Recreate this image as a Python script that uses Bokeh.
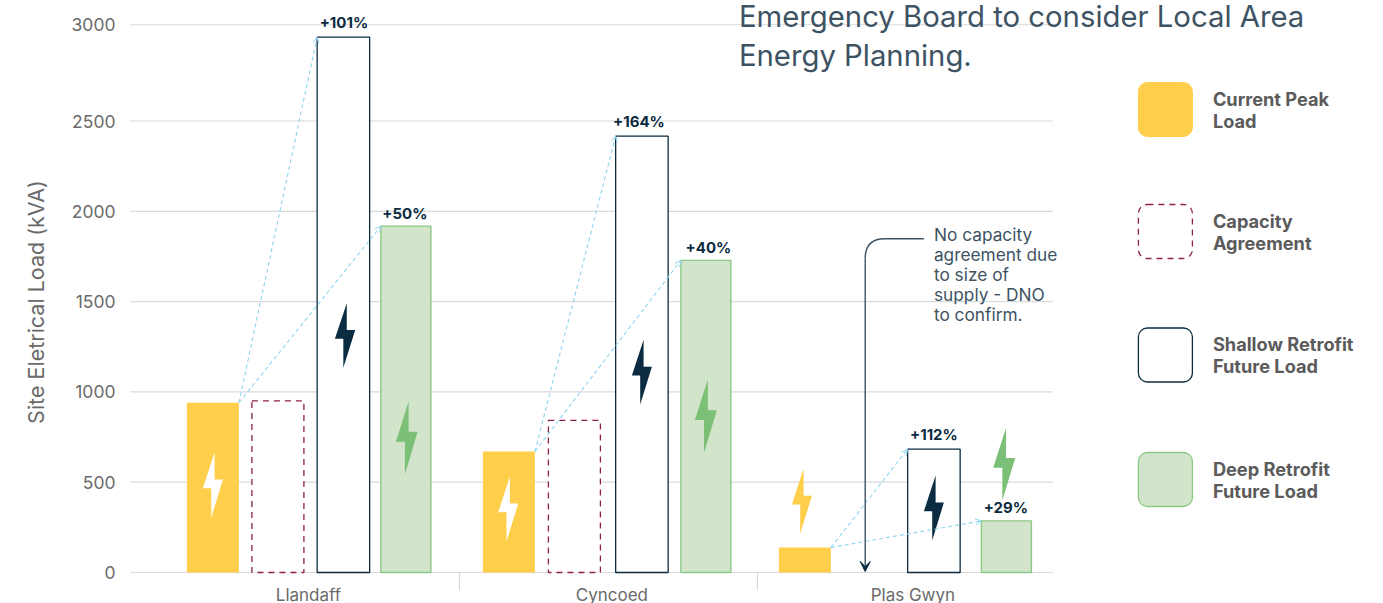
from bokeh.embed import file_html
from bokeh.models import Arrow, ColumnDataSource, FixedTicker, OpenHead, VeeHead
from bokeh.plotting import figure
from bokeh.resources import INLINE
from bokeh.core.properties import value

# Loads in kVA per site; Plas Gwyn has no capacity agreement
sites = ["Llandaff", "Cyncoed", "Plas Gwyn"]
current_peak = [940, 670, 138]
capacity = [950, 842, None]
shallow = [2964, 2416, 683]
deep = [1918, 1728, 286]
shallow_pct = ["+101%", "+164%", "+112%"]
deep_pct = ["+50%", "+40%", "+29%"]

y_ticks = [0, 500, 1000, 1500, 2000, 2500, 3033]
y_labels = ["0", "500", "1000", "1500", "2000", "2500", "3000"]

legend_names = [["Current Peak", "Load"], ["Capacity", "Agreement"],
                ["Shallow Retrofit", "Future Load"], ["Deep Retrofit", "Future Load"]]
note_lines = ["No capacity", "agreement due", "to size of", "supply - DNO", "to confirm."]
title_lines = ["Emergency Board to consider Local Area", "Energy Planning."]

# Horizontal layout, in page pixels
site_centres = [308.5, 612, 913]
site_dividers = [459.5, 757.5]
cur_x, cap_x = [213, 509, 805], [278, 574.5]
sha_x, dee_x = [343.5, 642, 934], [406, 706, 1006.5]
sha_label_x, dee_label_x = [344, 639, 934], [405, 708.5, 1006]
cur_w, cap_w, sha_w, dee_w = 52, 52, 52.5, 50

YELLOW, MAROON, NAVY, GREEN = "#FFCE4A", "#8E1F4E", "#0B2B40", "#7CBF76"
PALE_GREEN, GREEN_EDGE = "#D2E5CA", "#8CC886"
GRID, GREY, SLATE, SKY = "#DADADA", "#6A6A6A", "#3D5363", "#8FD5EF"
FONT = value("Inter")

BASE_PX, PX_PER_KVA = 572, 0.1806


def yd(px):
    """Convert a page pixel row into a value on the load scale."""
    return (BASE_PX - px) / PX_PER_KVA


p = figure(width=1383, height=603, output_backend="svg", toolbar_location=None,
           x_range=(130.6, 1383.6), y_range=(yd(603), yd(0)),
           min_border_left=130, min_border_right=0, min_border_top=0, min_border_bottom=0,
           outline_line_color=None, background_fill_color="white", border_fill_color="white")
p.xgrid.visible = False
p.ygrid.visible = False

p.yaxis.ticker = FixedTicker(ticks=y_ticks)
p.yaxis.major_label_overrides = dict(zip(y_ticks, y_labels))
p.yaxis.axis_label = "Site Eletrical Load (kVA)"
p.yaxis.axis_label_text_font = "Inter"
p.yaxis.axis_label_text_font_size = "21.5px"
p.yaxis.axis_label_text_font_style = "normal"
p.yaxis.axis_label_text_color = GREY
p.yaxis.axis_label_standoff = 20
p.yaxis.major_label_text_font = "Inter"
p.yaxis.major_label_text_font_size = "17.5px"
p.yaxis.major_label_text_color = GREY
p.yaxis.major_label_standoff = 9
p.yaxis.major_tick_line_color = None
p.yaxis.minor_tick_line_color = None
p.yaxis.axis_line_color = None

# The site axis sits on the zero line inside the plotting area
p.xaxis.fixed_location = 0
p.xaxis.ticker = FixedTicker(ticks=site_centres)
p.xaxis.major_label_overrides = dict(zip(site_centres, sites))
p.xaxis.major_label_text_font = "Inter"
p.xaxis.major_label_text_font_size = "17px"
p.xaxis.major_label_text_color = GREY
p.xaxis.major_label_standoff = 12
p.xaxis.major_tick_in = 0
p.xaxis.major_tick_out = 0
p.xaxis.major_tick_line_color = None
p.xaxis.minor_tick_line_color = None
p.xaxis.axis_line_color = None

# Gridlines stop short of the legend column
p.segment(x0=[130] * len(y_ticks), x1=[1053] * len(y_ticks), y0=y_ticks, y1=y_ticks,
          line_color=GRID, line_width=1.2)

# Dividers between the sites, hanging below the zero line
p.segment(x0=site_dividers, x1=site_dividers, y0=[0, 0], y1=[yd(589)] * 2,
          line_color="#D0D0D0", line_width=1)

# Bars
p.vbar(x=cur_x, width=cur_w, top=current_peak, bottom=0, fill_color=YELLOW, line_color=None)
p.vbar(x=cap_x, width=cap_w, top=capacity[:2], bottom=0, fill_color="white",
       line_color=MAROON, line_width=1.3, line_dash="6 5")
p.vbar(x=sha_x, width=sha_w, top=shallow, bottom=0, fill_color="white",
       line_color=NAVY, line_width=1.3)
p.vbar(x=dee_x, width=dee_w, top=deep, bottom=0, fill_color=PALE_GREEN,
       line_color=GREEN_EDGE, line_width=1.4)

# Lightning bolts: (left edge, top row, width, height, colour) in page pixels
bolts = [
    (203, 451.7, 20, 65.6, "white"), (335, 302.7, 20.3, 64.6, NAVY), (396, 401, 21.7, 73, GREEN),
    (498.3, 476, 20, 65, "white"), (632, 339.3, 20, 64.7, NAVY), (695, 379.3, 22, 73, GREEN),
    (792, 468.3, 20, 65, YELLOW), (924, 475, 20, 65, NAVY), (993.3, 427.3, 22, 72.7, GREEN),
]
bolt_u = [0.585, 0, 0.415, 0.415, 1, 0.585]
bolt_v = [0, 0.55, 0.55, 1, 0.416, 0.416]
for left, top, w, h, colour in bolts:
    p.patch([left + u * w for u in bolt_u], [yd(top + v * h) for v in bolt_v],
            fill_color=colour, line_color=None)

# Dashed growth arrows from the current peak to each retrofit load
arrow_src = ColumnDataSource(dict(
    x0=[c + cur_w / 2 for c in cur_x] * 2,
    y0=current_peak * 2,
    x1=[s - sha_w / 2 for s in sha_x] + [d - dee_w / 2 for d in dee_x],
    y1=shallow + deep,
))
p.add_layout(Arrow(end=OpenHead(size=6, line_color=SKY, line_width=1),
                   x_start="x0", y_start="y0", x_end="x1", y_end="y1", source=arrow_src,
                   line_color=SKY, line_width=1.1, line_dash="4 3"))

# Percentage uplift labels
p.text(x=sha_label_x, y=shallow, text=shallow_pct, text_font=FONT, text_font_size="15px",
       text_font_style="bold", text_color=NAVY, text_align="center",
       text_baseline="middle", y_offset=-15)
p.text(x=dee_label_x, y=deep, text=deep_pct, text_font=FONT, text_font_size="15px",
       text_font_style="bold", text_color=NAVY, text_align="center",
       text_baseline="middle", y_offset=-13)

# Callout for the missing capacity agreement
p.line([924, 885], [yd(238.3), yd(238.3)], line_color=SLATE, line_width=1.4)
p.bezier(x0=[885], y0=[yd(238.3)], x1=[865.3], y1=[yd(258)],
         cx0=[871], cy0=[yd(238.3)], cx1=[865.3], cy1=[yd(245)],
         line_color=SLATE, line_width=1.4)
p.add_layout(Arrow(end=VeeHead(size=10, fill_color=NAVY, line_color=NAVY),
                   x_start=865.3, y_start=yd(258), x_end=865.3, y_end=yd(571),
                   line_color=SLATE, line_width=1.4))
p.text(x=[934] * 5, y=[yd(234 + 20 * i) for i in range(5)], text=note_lines, text_font=FONT,
       text_font_size="17.3px", text_color=SLATE, text_baseline="middle")

# Heading
p.text(x=[739, 739], y=[yd(16), yd(54.5)], text=title_lines, text_font=FONT,
       text_font_size="29.3px", text_color=SLATE, text_baseline="middle")

# Legend swatches and labels
tops = [82, 204, 327.5, 452]
swatch_styles = [
    dict(fill_color=YELLOW, line_color=YELLOW, line_width=1),
    dict(fill_color="white", line_color=MAROON, line_width=1.3, line_dash="6 5"),
    dict(fill_color="white", line_color=NAVY, line_width=1.3),
    dict(fill_color=PALE_GREEN, line_color=GREEN_EDGE, line_width=1.3),
]
for top, names, style in zip(tops, legend_names, swatch_styles):
    p.quad(left=[1138.5], right=[1192.5], top=[yd(top)], bottom=[yd(top + 54)],
           border_radius=9, **style)
    p.text(x=[1213, 1213], y=[yd(top + 16), yd(top + 38)], text=names, text_font=FONT,
           text_font_size="18.2px", text_font_style="bold", text_color="#5B5B5B",
           text_baseline="middle")

open("out.html", "w").write(file_html(p, INLINE))
